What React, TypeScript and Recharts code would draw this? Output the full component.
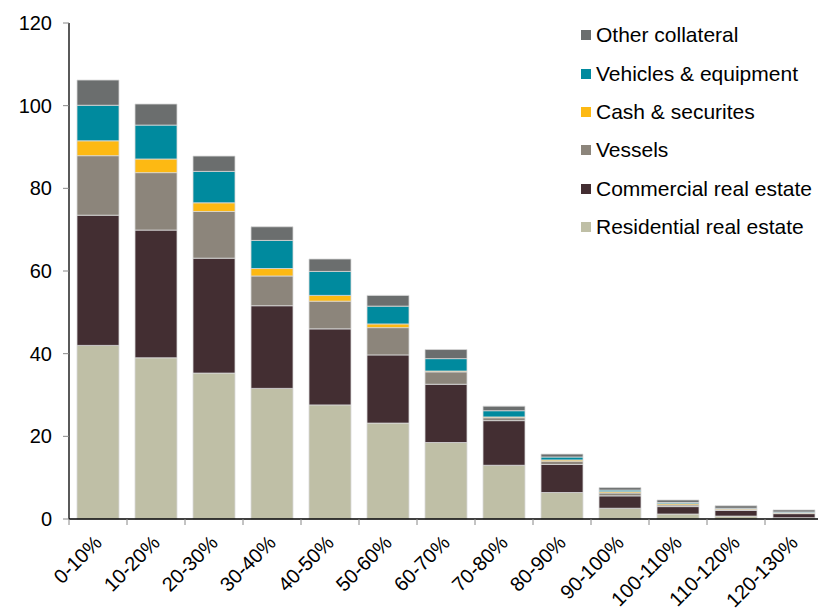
import React from 'react';
import { BarChart, Bar, XAxis, YAxis } from 'recharts';

const categories = ['0-10%', '10-20%', '20-30%', '30-40%', '40-50%', '50-60%', '60-70%', '70-80%', '80-90%', '90-100%', '100-110%', '110-120%', '120-130%'];
const residential = [42, 39, 35.3, 31.6, 27.6, 23.2, 18.5, 13.0, 6.4, 2.6, 1.2, 0.7, 0.3];
const commercial = [31.5, 30.9, 27.8, 20.0, 18.4, 16.5, 14.1, 10.8, 6.8, 3.0, 1.8, 1.4, 1.0];
const vessels = [14.4, 13.9, 11.3, 7.2, 6.7, 6.6, 3.0, 0.7, 0.8, 0.7, 0.4, 0.1, 0.1];
const cash = [3.6, 3.3, 2.1, 1.8, 1.4, 0.9, 0.2, 0.2, 0.3, 0.3, 0.3, 0.2, 0.1];
const vehicles = [8.6, 8.2, 7.6, 6.8, 5.8, 4.3, 3.0, 1.5, 0.7, 0.4, 0.3, 0.2, 0.2];
const other = [6.1, 5.1, 3.7, 3.3, 3.0, 2.6, 2.2, 1.1, 0.7, 0.6, 0.6, 0.6, 0.5];
const yTicks = [0, 20, 40, 60, 80, 100, 120];

// stacking order, bottom to top
const series = [
  { key: 'residential', name: 'Residential real estate', color: '#bfbfa6', values: residential },
  { key: 'commercial', name: 'Commercial real estate', color: '#432e32', values: commercial },
  { key: 'vessels', name: 'Vessels', color: '#8c857b', values: vessels },
  { key: 'cash', name: 'Cash & securites', color: '#fdb913', values: cash },
  { key: 'vehicles', name: 'Vehicles & equipment', color: '#008a9e', values: vehicles },
  { key: 'other', name: 'Other collateral', color: '#6b6e6e', values: other },
];

const data = categories.map((cat, i) => {
  const row: any = { cat };
  series.forEach(s => { row[s.key] = s.values[i]; });
  return row;
});

const CHART_W = 830;
const CHART_H = 609;
const LEFT = 69;
const RIGHT = 7;
const BAND = (CHART_W - LEFT - RIGHT) / categories.length;
const FONT = '"Liberation Sans", Arial, sans-serif';

const XTick = (props: any) => {
  const { x, y, payload } = props;
  const tx = x + 5;
  const ty = y + 25;
  return (
    <g>
      <line x1={x - BAND / 2} y1={y} x2={x - BAND / 2} y2={y + 6} stroke="#888" strokeWidth={1} />
      <text
        x={tx}
        y={ty}
        textAnchor="end"
        transform={`rotate(-45, ${tx}, ${ty})`}
        fontSize={20}
        fontFamily={FONT}
        fill="#000"
      >
        {payload.value}
      </text>
    </g>
  );
};

export default function App() {
  return (
    <div style={{ position: 'absolute', left: 0, top: 0, width: 818, height: 609, overflow: 'hidden', background: '#fff' }}>
      <BarChart width={CHART_W} height={CHART_H} data={data} margin={{ top: 23, right: RIGHT, bottom: 0, left: 0 }}>
        <XAxis
          dataKey="cat"
          height={90}
          interval={0}
          tickLine={false}
          tickSize={0}
          tickMargin={0}
          axisLine={{ stroke: '#000', strokeWidth: 1.3 }}
          tick={<XTick />}
        />
        <YAxis
          width={LEFT}
          domain={[0, 120]}
          ticks={yTicks}
          tickSize={6}
          tickMargin={11}
          axisLine={{ stroke: '#000', strokeWidth: 1.3 }}
          tickLine={{ stroke: '#888' }}
          tick={{ fontSize: 20, fontFamily: FONT, fill: '#000' }}
        />
        {series.map(s => (
          <Bar
            key={s.key}
            dataKey={s.key}
            name={s.name}
            stackId="a"
            fill={s.color}
            stroke="#d9d9d9"
            strokeWidth={0.8}
            barSize={42}
            isAnimationActive={false}
          />
        ))}
      </BarChart>
      <div style={{ position: 'absolute', left: 581, top: 16, fontFamily: FONT, fontSize: 21, color: '#000' }}>
        {[...series].reverse().map(s => (
          <div key={s.key} style={{ display: 'flex', alignItems: 'center', height: 38.4, whiteSpace: 'nowrap' }}>
            <div style={{ width: 10, height: 10, background: s.color, marginRight: 5 }} />
            <span>{s.name}</span>
          </div>
        ))}
      </div>
    </div>
  );
}
